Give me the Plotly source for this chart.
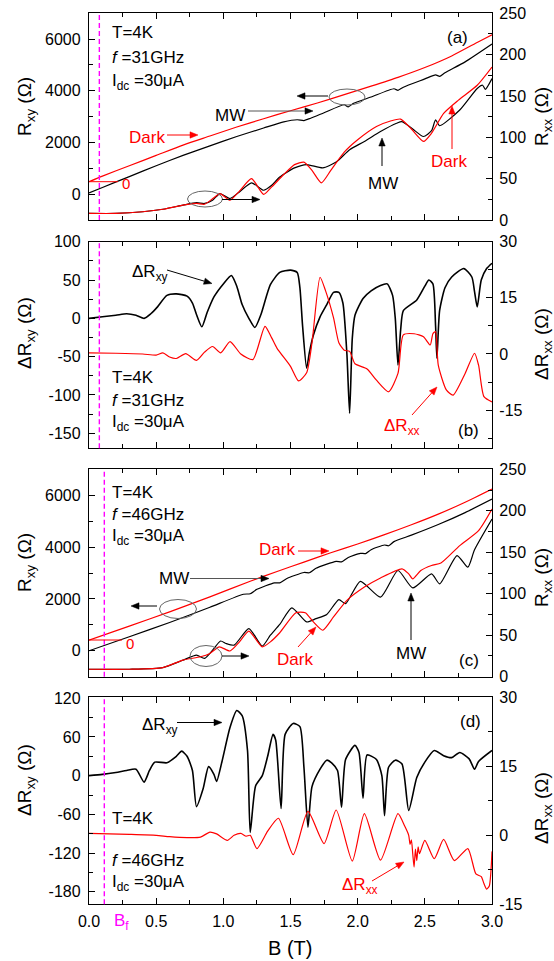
import math
import plotly.graph_objects as go

W, H = 554, 961
FONT = "Arial, Liberation Sans, sans-serif"

# ---------------- data ----------------
# Panel (a): f=31GHz, Rxy (left axis) and Rxx (right axis)
a_rxy_dark_B = [0, 0.1, 0.3, 0.5, 0.7, 0.9, 1.1, 1.3, 1.5, 1.7, 1.9, 2.1, 2.3, 2.5, 2.7, 2.9, 3.0]
a_rxy_dark = [480, 700, 1100, 1500, 1900, 2250, 2600, 2920, 3230, 3530, 3850, 4180, 4520, 4900, 5350, 5900, 6170]
a_rxy_mw_B = [0, 0.1, 0.3, 0.5, 0.7, 0.9, 1.1, 1.3, 1.45, 1.55, 1.6, 1.65, 1.75, 1.9, 1.93, 1.97, 2.1,
              2.27, 2.3, 2.34, 2.5, 2.58, 2.61, 2.65, 2.8, 3.0]
a_rxy_mw = [50, 260, 680, 1100, 1500, 1870, 2230, 2560, 2800, 2880, 2850, 2940, 3150, 3460, 3380, 3520, 3760,
            4080, 4020, 4140, 4460, 4620, 4560, 4700, 5120, 5810]
a_rxx_dark_B = [0, 0.2, 0.4, 0.55, 0.7, 0.8, 0.86, 0.93, 0.975, 1.05, 1.12, 1.21, 1.3, 1.36, 1.45, 1.53, 1.6,
                1.66, 1.73, 1.8, 1.9, 2.0, 2.14, 2.25, 2.32, 2.4, 2.49, 2.55, 2.64, 2.75, 2.89, 3.0]
a_rxx_dark = [8, 8, 10, 13, 18, 20, 19, 27, 32, 24, 35, 50, 31, 40, 55, 67, 70,
              60, 45, 60, 82, 97, 113, 120, 122, 110, 95, 105, 129, 145, 163, 185]
a_rxx_mw_B = [0, 0.2, 0.4, 0.55, 0.7, 0.8, 0.86, 0.92, 0.975, 1.05, 1.12, 1.21, 1.3, 1.36, 1.42, 1.53, 1.62,
              1.74, 1.84, 1.94, 2.05, 2.17, 2.29, 2.33, 2.41, 2.49, 2.55, 2.58, 2.61, 2.76, 2.89, 2.93, 2.95, 3.0]
a_rxx_mw = [8, 8, 10, 13, 18, 21, 20, 24, 32, 26, 34, 45, 36, 42, 52, 63, 67,
            63, 70, 85, 95, 107, 117, 119, 110, 101, 108, 121, 114, 133, 159, 163, 158, 171]

# Panel (b): f=31GHz, dRxy (left) and dRxx (right)
b_dxy_B = [0, 0.1, 0.2, 0.28, 0.35, 0.41, 0.46, 0.51, 0.58, 0.65, 0.73, 0.77, 0.8, 0.84, 0.88, 0.93, 1.0,
           1.06, 1.1, 1.14, 1.19, 1.235, 1.28, 1.35, 1.42, 1.5, 1.55, 1.57, 1.59, 1.62, 1.64, 1.67, 1.72,
           1.77, 1.82, 1.86, 1.89, 1.92, 1.94, 1.96, 1.98, 2.04, 2.1, 2.17, 2.22, 2.26, 2.28, 2.3, 2.32,
           2.34, 2.44, 2.5, 2.53, 2.56, 2.58, 2.59, 2.61, 2.65, 2.7, 2.79, 2.85, 2.87, 2.89, 2.92, 2.96, 3.0]
b_dxy = [0, 2, 4, 6, 4, 0, 6, 15, 30, 32, 29, 20, 5, -11, 8, 28, 45,
         56, 42, 18, 0, -12, 5, 44, 60, 63, 60, 40, -10, -65, -45, -22, 2,
         18, 34, 34, 20, -47, -124, -26, 4, 26, 36, 43, 45, 30, 0, -61, -15,
         10, 24, 42, 50, 45, -10, -52, 10, 40, 54, 65, 54, 35, 15, 50, 65, 72]
b_dxx_B = [0, 0.2, 0.4, 0.5, 0.55, 0.6, 0.65, 0.72, 0.8, 0.86, 0.92, 0.98, 1.05, 1.13, 1.22, 1.31, 1.36,
           1.4, 1.5, 1.56, 1.62, 1.66, 1.72, 1.76, 1.82, 1.86, 1.9, 1.94, 1.98, 2.07, 2.14, 2.23, 2.3,
           2.34, 2.42, 2.49, 2.54, 2.56, 2.58, 2.6, 2.66, 2.71, 2.8, 2.87, 2.9, 2.94, 3.0]
b_dxx = [0.3, 0.2, 0, -0.3, 0.3, -0.8, -1.2, 0.1, -1.7, 0.5, 2.0, 0.3, 3.3, 0, -1.5, 7.4, 4.3,
         1.5, -3.3, -7.2, -5.0, 3.0, 20.5, 17.0, 9.7, 3.0, 1.0, 0.7, -2.6, -4.0, -7.0, -10.1, -5.2,
         5.1, 5.4, 4.6, 2.4, 5.4, 6.0, -3.0, -9.6, -11.0, -5.2, 0.2, -3.0, -11.4, -12.8]

# Panel (c): f=46GHz, Rxy (left) and Rxx (right)
c_rxy_dark_B = [0, 0.3, 0.6, 0.9, 1.2, 1.4, 1.6, 1.8, 2.0, 2.2, 2.4, 2.6, 2.8, 3.0]
c_rxy_dark = [410, 950, 1500, 2080, 2680, 3060, 3420, 3780, 4120, 4480, 4860, 5270, 5730, 6240]
c_rxy_mw_B = [0, 0.3, 0.6, 0.9, 1.15, 1.2, 1.25, 1.38, 1.42, 1.47, 1.6, 1.64, 1.69, 1.84, 1.88, 1.93,
              2.02, 2.06, 2.1, 2.2, 2.23, 2.27, 2.4, 2.6, 2.8, 3.0]
c_rxy_mw = [0, 540, 1090, 1680, 2180, 2200, 2370, 2620, 2620, 2780, 3020, 3010, 3180, 3450, 3430, 3600,
            3760, 3750, 3900, 4080, 4050, 4210, 4460, 4870, 5330, 5850]
c_rxx_dark_B = [0, 0.3, 0.55, 0.7, 0.83, 0.9, 0.97, 1.05, 1.12, 1.19, 1.29, 1.35, 1.42, 1.54, 1.61, 1.67,
                1.74, 1.82, 1.92, 2.05, 2.17, 2.33, 2.38, 2.41, 2.47, 2.55, 2.62, 2.76, 2.9, 3.0]
c_rxx_dark = [9, 9, 11, 20, 24, 28, 36, 31, 42, 55, 36, 42, 53, 77, 77, 66,
              56, 72, 92, 108, 119, 130, 124, 118, 128, 134, 137, 158, 176, 202]
c_rxx_mw_B = [0, 0.3, 0.55, 0.7, 0.8, 0.86, 0.92, 0.98, 1.02, 1.08, 1.19, 1.29, 1.35, 1.42, 1.51, 1.62,
              1.69, 1.77, 1.86, 1.91, 2.02, 2.17, 2.3, 2.41, 2.55, 2.61, 2.74, 2.82, 2.87, 3.0]
c_rxx_mw = [9, 9, 11, 20, 26, 22, 32, 43, 40, 38, 58, 37, 50, 63, 83, 66,
            70, 75, 93, 88, 115, 96, 128, 107, 124, 112, 146, 132, 153, 190]

# Panel (d): f=46GHz, dRxy (left) and dRxx (right)
d_dxy_B = [0, 0.1, 0.2, 0.28, 0.35, 0.41, 0.45, 0.49, 0.58, 0.65, 0.69, 0.73, 0.77, 0.8, 0.85, 0.89, 0.93,
           0.95, 0.99, 1.05, 1.1, 1.14, 1.18, 1.2, 1.24, 1.29, 1.33, 1.37, 1.39, 1.43, 1.46, 1.52, 1.57,
           1.6, 1.63, 1.66, 1.72, 1.77, 1.81, 1.85, 1.88, 1.91, 1.98, 2.01, 2.04, 2.07, 2.14, 2.18, 2.2,
           2.23, 2.28, 2.33, 2.38, 2.44, 2.5, 2.57, 2.64, 2.7, 2.76, 2.83, 2.87, 2.9, 3.0]
d_dxy = [0, 2, 5, 8, 10, -10, 8, 21, 20, 30, 38, 30, 8, -48, -20, 14, 2,
         -9, 22, 75, 101, 93, 39, -88, -16, 0, 30, 64, 55, -51, 64, 81, 76,
         13, -80, -17, 10, 24, 19, 8, -49, 25, 47, 36, -35, 32, 25, 0, -62,
         13, 24, 18, -54, -3, 21, 39, 31, 28, 36, 26, 10, 22, 39]
d_dxx_B = [0, 0.3, 0.5, 0.6, 0.73, 0.83, 0.9, 0.95, 1.03, 1.08, 1.13, 1.17, 1.2, 1.25, 1.33, 1.41, 1.52,
           1.63, 1.75, 1.84, 1.96, 2.05, 2.17, 2.3, 2.35, 2.38, 2.39, 2.4, 2.41, 2.42, 2.43, 2.44, 2.45,
           2.46, 2.5, 2.57, 2.64, 2.72, 2.82, 2.88, 2.92, 2.94, 2.96, 2.98, 3.0]
d_dxx = [0.4, 0.2, 0, -0.3, -0.5, -0.4, 0.7, 0.3, -1.1, 0, 0.4, -0.2, 0, -2.9, 0.9, 3.7, -4.2,
         5.2, -1.8, 5.5, -5.6, 4.7, -5.4, 4.7, 2.0, 0, -2.0, -1.0, -4.0, -6.9, -3.0, -5.5, -2.5,
         -4.0, -1.1, -5.1, -0.9, -5.5, -2.9, -8.4, -9.0, -10.5, -11.7, -11.0, -3.5]

Bf_31 = 0.077
Bf_46 = 0.114

x_tickvals = [0, 0.5, 1.0, 1.5, 2.0, 2.5, 3.0]
x_ticktext = ["0.0", "0.5", "1.0", "1.5", "2.0", "2.5", "3.0"]
x_minor = [0.25, 0.75, 1.25, 1.75, 2.25, 2.75]
rxy_tickvals = [0, 2000, 4000, 6000]
rxy_ticktext = ["0", "2000", "4000", "6000"]
rxy_minor = [-1000, 1000, 3000, 5000]
rxx_tickvals = [0, 50, 100, 150, 200, 250]
rxx_ticktext = ["0", "50", "100", "150", "200", "250"]
rxx_minor = [25, 75, 125, 175, 225]
b_dxy_tickvals = [-150, -100, -50, 0, 50, 100]
b_dxy_ticktext = ["-150", "-100", "-50", "0", "50", "100"]
b_dxy_minor = [-125, -75, -25, 25, 75]
dxx_tickvals = [-15, 0, 15, 30]
dxx_ticktext = ["-15", "0", "15", "30"]
dxx_minor = [-22.5, -7.5, 7.5, 22.5]
d_dxy_tickvals = [-180, -120, -60, 0, 60, 120]
d_dxy_ticktext = ["-180", "-120", "-60", "0", "60", "120"]
d_dxy_minor = [-150, -90, -30, 30, 90]

# ---------------- geometry (pixels) ----------------
XL, XR = 89, 492
panel_px = {1: (13.3, 220.0), 2: (241.7, 448.3), 3: (469.3, 676.7), 4: (697.3, 904.3)}


def dom(n):
    t, b = panel_px[n]
    return [1 - b / H, 1 - t / H]


fig = go.Figure()


def add(xs, ys, xa, ya, color, width=1.2):
    fig.add_trace(go.Scatter(x=xs, y=ys, xaxis=xa, yaxis=ya, mode="lines",
                             line=dict(color=color, width=width, shape="spline", smoothing=0.6),
                             showlegend=False, hoverinfo="skip"))


RED = "#ff0000"
BLK = "#000000"
# panel a
add(a_rxy_dark_B, a_rxy_dark, "x", "y", RED)
add(a_rxy_mw_B, a_rxy_mw, "x", "y", BLK)
add(a_rxx_mw_B, a_rxx_mw, "x", "y2", BLK)
add(a_rxx_dark_B, a_rxx_dark, "x", "y2", RED)
# panel b
add(b_dxy_B, b_dxy, "x2", "y3", BLK, 1.6)
add(b_dxx_B, b_dxx, "x2", "y4", RED)
# panel c
add(c_rxy_dark_B, c_rxy_dark, "x3", "y5", RED)
add(c_rxy_mw_B, c_rxy_mw, "x3", "y5", BLK)
add(c_rxx_mw_B, c_rxx_mw, "x3", "y6", BLK)
add(c_rxx_dark_B, c_rxx_dark, "x3", "y6", RED)
# panel d
add(d_dxy_B, d_dxy, "x4", "y7", BLK, 1.6)
add(d_dxx_B, d_dxx, "x4", "y8", RED)

tickfont = dict(family=FONT, size=16, color="black")
common = dict(showgrid=False, zeroline=False, showline=True, linecolor="black", linewidth=1.3,
              ticks="inside", ticklen=6, tickwidth=1.2, tickcolor="black", tickfont=tickfont,
              automargin=False)


def minor(vals):
    return dict(tickvals=vals, ticks="inside", ticklen=4, tickwidth=1, tickcolor="black")


layout = dict(template="none", width=W, height=H, margin=dict(l=0, r=0, t=0, b=0, pad=0),
              paper_bgcolor="white", plot_bgcolor="white", showlegend=False,
              font=dict(family=FONT, color="black"))

yspec = {
    1: (rxy_tickvals, rxy_ticktext, rxy_minor, [-1000, 7000], rxx_tickvals, rxx_ticktext, rxx_minor, [0, 250]),
    2: (b_dxy_tickvals, b_dxy_ticktext, b_dxy_minor, [-169.7, 100.1], dxx_tickvals, dxx_ticktext, dxx_minor, [-25.2, 30]),
    3: (rxy_tickvals, rxy_ticktext, rxy_minor, [-1000, 7000], rxx_tickvals, rxx_ticktext, rxx_minor, [0, 250]),
    4: (d_dxy_tickvals, d_dxy_ticktext, d_dxy_minor, [-199.5, 121.5], dxx_tickvals, dxx_ticktext, dxx_minor, [-15, 30]),
}

for n in range(1, 5):
    xname = "xaxis" if n == 1 else f"xaxis{n}"
    xid = "x" if n == 1 else f"x{n}"
    yl = 2 * n - 1
    yr = 2 * n
    ylname = "yaxis" if yl == 1 else f"yaxis{yl}"
    ylid = "y" if yl == 1 else f"y{yl}"
    yrname = f"yaxis{yr}"
    ltv, ltt, lmin, lrange, rtv, rtt, rmin, rrange = yspec[n]
    layout[xname] = dict(common, domain=[XL / W, XR / W], range=[0, 3], anchor=ylid, mirror="ticks",
                         tickmode="array", tickvals=x_tickvals, ticktext=x_ticktext,
                         minor=minor(x_minor), showticklabels=(n == 4), ticklabelstandoff=2)
    layout[ylname] = dict(common, domain=dom(n), range=lrange, anchor=xid, mirror=True,
                          tickmode="array", tickvals=ltv, ticktext=ltt, minor=minor(lmin),
                          ticklabelstandoff=4)
    layout[yrname] = dict(common, domain=dom(n), range=rrange, anchor=xid, overlaying=ylid, side="right",
                          tickmode="array", tickvals=rtv, ticktext=rtt, minor=minor(rmin),
                          ticklabelstandoff=3)

fig.update_layout(**layout)

ann = []
shapes = []


def P(x, y):
    return x / W, 1 - y / H


def text(x, y, s, color=BLK, size=17, xanchor="left", angle=0):
    px_, py_ = P(x, y)
    ann.append(dict(x=px_, y=py_, xref="paper", yref="paper", text=s, showarrow=False,
                    xanchor=xanchor, yanchor="middle", textangle=angle,
                    font=dict(family=FONT, size=size, color=color)))


def arrow(x0, y0, x1, y1, color=BLK, head_color=None):
    """Arrow drawn as shapes: a shaft line plus a filled triangular head at (x1, y1)."""
    hc = head_color or (BLK if color == "#555555" else color)
    L = math.hypot(x1 - x0, y1 - y0)
    dx, dy = (x1 - x0) / L, (y1 - y0) / L
    hl, hw = 8.0, 3.2
    bx, by = x1 - hl * dx, y1 - hl * dy
    a0, b0 = P(x0, y0)
    a1, b1 = P(bx, by)
    shapes.append(dict(type="line", xref="paper", yref="paper", x0=a0, y0=b0, x1=a1, y1=b1,
                       line=dict(color=color, width=1)))
    pts = [(x1, y1), (bx - hw * dy, by + hw * dx), (bx + hw * dy, by - hw * dx)]
    path = "M " + " L ".join(f"{P(px_, py_)[0]:.6f},{P(px_, py_)[1]:.6f}" for px_, py_ in pts) + " Z"
    shapes.append(dict(type="path", xref="paper", yref="paper", path=path,
                       fillcolor=hc, line=dict(color=hc, width=0.5)))


def ellipse(cx, cy, rx, ry, color="#666666"):
    x0, y0 = P(cx - rx, cy + ry)
    x1, y1 = P(cx + rx, cy - ry)
    shapes.append(dict(type="circle", xref="paper", yref="paper", x0=x0, x1=x1, y0=y0, y1=y1,
                       line=dict(color=color, width=1)))


def hline(x0, x1, y, color=RED):
    a0, b0 = P(x0, y)
    a1, b1 = P(x1, y)
    shapes.append(dict(type="line", xref="paper", yref="paper", x0=a0, x1=a1, y0=b0, y1=b1,
                       line=dict(color=color, width=1)))


# dashed magenta B_f lines
for n, bf in [(1, Bf_31), (2, Bf_31), (3, Bf_46), (4, Bf_46)]:
    xid = "x" if n == 1 else f"x{n}"
    ylid = "y" if n == 1 else f"y{2 * n - 1}"
    shapes.append(dict(type="line", xref=xid, yref=f"{ylid} domain", x0=bf, x1=bf, y0=0, y1=1,
                       line=dict(color="#ff00ff", width=1.4, dash="5px,3px")))

# axis titles
for n, (yl, yr) in enumerate([(107, 117), (333, 344), (563, 578), (780, 808)], start=1):
    left = "R<sub>xy</sub> (Ω)" if n in (1, 3) else "ΔR<sub>xy</sub> (Ω)"
    right = "R<sub>xx</sub> (Ω)" if n in (1, 3) else "ΔR<sub>xx</sub> (Ω)"
    text(26, yl, left, size=19, xanchor="center", angle=-90)
    text(543, yr, right, size=19, xanchor="center", angle=-90)

text(290, 948, "B (T)", size=20, xanchor="center")
text(112, 922, "B<sub>f</sub>", color="#ff00ff", size=17)

# panel (a)
text(110, 33, "T=4K")
text(110, 57, "<i>f</i> =31GHz")
text(110, 82, "I<sub>dc</sub> =30μA")
text(457, 38, "(a)", xanchor="center")
text(127, 137, "Dark", color=RED)
arrow(167, 135, 198, 135, RED)
text(213, 115, "MW")
arrow(248, 111, 313, 111, "#555555")
ellipse(347, 97, 18, 8)
arrow(328, 96, 297, 96)
ellipse(205, 199, 17.5, 8)
arrow(222, 199.5, 260, 199.5)
hline(89, 118, 181.7)
text(120, 184, "0", color=RED, size=15)
text(383, 183, "MW", xanchor="center")
arrow(382, 166, 382, 138)
text(449, 161, "Dark", color=RED, xanchor="center")
arrow(452, 149, 452, 106, RED)

# panel (b)
text(130, 273, "ΔR<sub>xy</sub>")
arrow(167, 270, 212, 283.5)
text(110, 377, "T=4K")
text(110, 400, "<i>f</i> =31GHz")
text(110, 423, "I<sub>dc</sub> =30μA")
text(382, 427, "ΔR<sub>xx</sub>", color=RED)
arrow(412, 415, 437, 387, RED)
text(468, 430, "(b)", xanchor="center")

# panel (c)
text(110, 492, "T=4K")
text(110, 514, "<i>f</i> =46GHz")
text(110, 537, "I<sub>dc</sub> =30μA")
text(257, 549, "Dark", color=RED)
arrow(298, 551, 329, 551, RED)
text(157, 578, "MW")
arrow(190, 578.5, 269, 578.5, "#555555")
ellipse(178, 609, 18.5, 9.5)
arrow(157, 606, 131, 606)
ellipse(206, 656, 16, 10.5)
arrow(222, 656, 249, 656)
hline(89, 122, 640)
text(124, 643, "0", color=RED, size=15)
text(295, 659, "Dark", color=RED, xanchor="center")
arrow(298, 647, 316, 627, RED)
text(411, 653, "MW", xanchor="center")
arrow(411, 640, 411, 593)
text(469, 660, "(c)", xanchor="center")

# panel (d)
text(140, 726, "ΔR<sub>xy</sub>")
arrow(177, 722.5, 222, 722.5)
text(110, 818, "T=4K")
text(110, 860, "<i>f</i> =46GHz")
text(110, 883, "I<sub>dc</sub> =30μA")
text(340, 886, "ΔR<sub>xx</sub>", color=RED)
arrow(372, 881, 404, 862, RED)
text(470, 721, "(d)", xanchor="center")

fig.update_layout(annotations=ann, shapes=shapes)
fig.write_html("out.html")
